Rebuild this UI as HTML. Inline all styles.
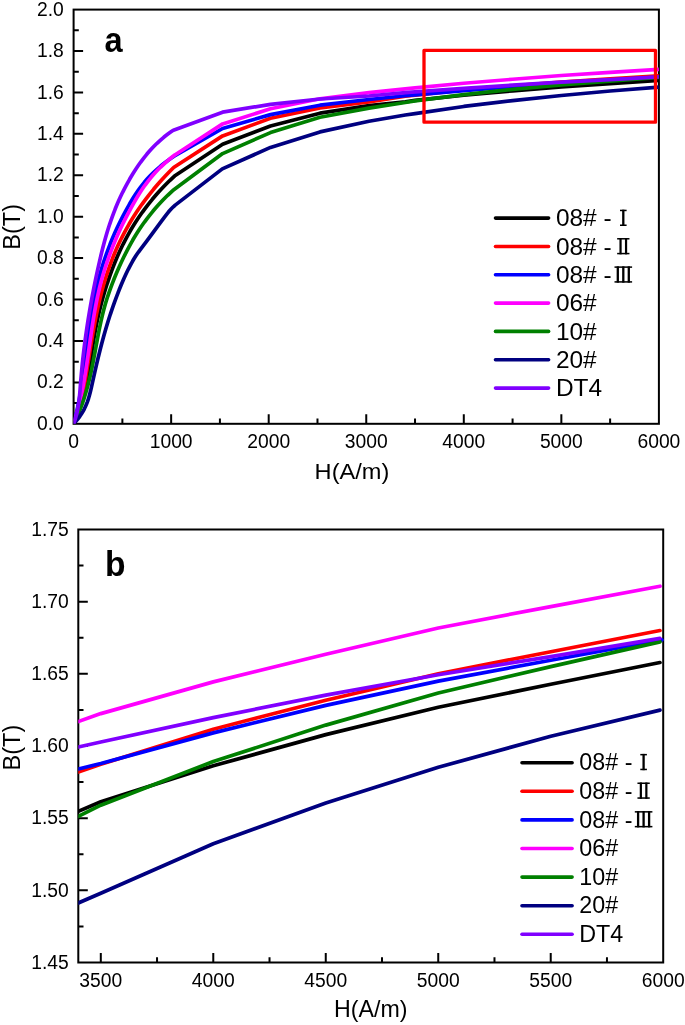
<!DOCTYPE html><html><head><meta charset="utf-8"><style>html,body{margin:0;padding:0;background:#fff;}svg{display:block;will-change:transform}</style></head><body>
<svg width="685" height="1025" viewBox="0 0 685 1025" font-family="Liberation Sans, sans-serif">
<rect x="0" y="0" width="685" height="1025" fill="#fff"/>
<rect x="73.60" y="9.60" width="585.30" height="414.20" fill="none" stroke="#000" stroke-width="2"/>
<path d="M122.38 423.80V418.60M171.15 423.80V414.30M219.92 423.80V418.60M268.70 423.80V414.30M317.48 423.80V418.60M366.25 423.80V414.30M415.02 423.80V418.60M463.80 423.80V414.30M512.58 423.80V418.60M561.35 423.80V414.30M610.12 423.80V418.60M73.60 403.09H78.80M73.60 382.38H83.10M73.60 361.67H78.80M73.60 340.96H83.10M73.60 320.25H78.80M73.60 299.54H83.10M73.60 278.83H78.80M73.60 258.12H83.10M73.60 237.41H78.80M73.60 216.70H83.10M73.60 195.99H78.80M73.60 175.28H83.10M73.60 154.57H78.80M73.60 133.86H83.10M73.60 113.15H78.80M73.60 92.44H83.10M73.60 71.73H78.80M73.60 51.02H83.10M73.60 30.31H78.80" stroke="#000" stroke-width="2" fill="none"/>
<g fill="none" stroke-width="3.7" stroke-linejoin="round" stroke-linecap="butt">
<clipPath id="ca"><rect x="73.60" y="9.60" width="585.30" height="414.20"/></clipPath>
<polyline clip-path="url(#ca)" stroke="#000000" points="73.60,423.80 74.06,422.80 74.51,421.80 74.95,420.80 75.39,419.80 75.81,418.80 76.23,417.80 76.63,416.80 77.03,415.80 77.42,414.80 77.81,413.80 78.18,412.80 78.55,411.80 78.91,410.80 79.26,409.80 79.60,408.80 79.94,407.80 80.27,406.80 80.60,405.80 80.91,404.80 81.22,403.80 81.53,402.80 81.83,401.80 82.12,400.80 82.40,399.80 82.68,398.80 82.96,397.80 83.23,396.80 83.49,395.80 83.75,394.80 84.00,393.80 84.25,392.80 84.49,391.80 84.73,390.80 84.97,389.80 85.20,388.80 85.42,387.80 85.65,386.80 85.86,385.80 86.08,384.80 86.29,383.80 86.50,382.80 86.70,381.80 86.90,380.80 87.10,379.80 87.29,378.80 87.49,377.80 87.68,376.80 87.86,375.80 88.05,374.80 88.23,373.80 88.41,372.80 88.58,371.80 88.76,370.80 88.93,369.80 89.10,368.80 89.27,367.80 89.44,366.80 89.60,365.80 89.77,364.80 89.93,363.80 90.09,362.80 90.25,361.80 90.41,360.80 90.57,359.80 90.73,358.80 90.89,357.80 91.04,356.80 91.20,355.80 91.35,354.80 91.51,353.80 91.67,352.80 91.82,351.80 91.98,350.80 92.13,349.80 92.29,348.80 92.44,347.80 92.60,346.80 92.76,345.80 92.92,344.80 93.08,343.80 93.24,342.80 93.40,341.80 93.56,340.80 93.72,339.80 93.89,338.80 94.05,337.80 94.22,336.80 94.39,335.80 94.56,334.80 94.74,333.80 94.91,332.80 95.09,331.80 95.27,330.80 95.46,329.80 95.64,328.80 95.83,327.80 96.02,326.80 96.21,325.80 96.41,324.80 96.61,323.80 96.81,322.80 97.02,321.80 97.23,320.80 97.44,319.80 97.65,318.80 97.87,317.80 98.09,316.80 98.32,315.80 98.54,314.80 98.77,313.80 99.01,312.80 99.25,311.80 99.49,310.80 99.73,309.80 99.98,308.80 100.23,307.80 100.48,306.80 100.73,305.80 100.99,304.80 101.25,303.80 101.52,302.80 101.79,301.80 102.06,300.80 102.33,299.80 102.61,298.80 102.89,297.80 103.17,296.80 103.46,295.80 103.75,294.80 104.04,293.80 104.34,292.80 104.64,291.80 104.94,290.80 105.25,289.80 105.55,288.80 105.87,287.80 106.18,286.80 106.50,285.80 106.82,284.80 107.14,283.80 107.47,282.80 107.80,281.80 108.13,280.80 108.47,279.80 108.81,278.80 109.15,277.80 109.50,276.80 109.85,275.80 110.20,274.80 110.56,273.80 110.92,272.80 111.28,271.80 111.65,270.80 112.02,269.80 112.40,268.80 112.78,267.80 113.16,266.80 113.55,265.80 113.95,264.80 114.34,263.80 114.75,262.80 115.15,261.80 115.56,260.80 115.98,259.80 116.40,258.80 116.82,257.80 117.25,256.80 117.69,255.80 118.13,254.80 118.57,253.80 119.02,252.80 119.48,251.80 119.94,250.80 120.40,249.80 120.87,248.80 121.35,247.80 121.83,246.80 122.32,245.80 122.81,244.80 123.31,243.80 123.81,242.80 124.32,241.80 124.84,240.80 125.36,239.80 125.88,238.80 126.42,237.80 126.96,236.80 127.50,235.80 128.06,234.80 128.61,233.80 129.18,232.80 129.75,231.80 130.33,230.80 130.91,229.80 131.50,228.80 132.10,227.80 132.71,226.80 133.32,225.80 133.94,224.80 134.56,223.80 135.19,222.80 135.83,221.80 136.48,220.80 137.13,219.80 137.80,218.80 138.46,217.80 139.14,216.80 139.83,215.80 140.52,214.80 141.22,213.80 141.93,212.80 142.65,211.80 143.37,210.80 144.10,209.80 144.85,208.80 145.60,207.80 146.36,206.80 147.13,205.80 147.90,204.80 148.69,203.80 149.49,202.80 150.29,201.80 151.11,200.80 151.93,199.80 152.76,198.80 153.61,197.80 154.46,196.80 155.32,195.80 156.19,194.80 157.08,193.80 157.97,192.80 158.87,191.80 159.79,190.80 160.71,189.80 161.64,188.80 162.59,187.80 163.55,186.80 164.51,185.80 165.49,184.80 166.48,183.80 167.48,182.80 168.49,181.80 169.51,180.80 170.54,179.80 171.59,178.80 172.65,177.80 173.71,176.80 174.79,175.80 174.90,175.70 222.60,144.30 270.50,126.00 320.00,113.20 369.00,105.70 405.27,101.81 415.03,100.45 463.81,95.28 512.59,90.80 561.38,86.89 610.16,83.57 658.90,80.37"/>
<polyline clip-path="url(#ca)" stroke="#ff0000" points="73.60,423.80 74.06,422.80 74.51,421.80 74.95,420.80 75.37,419.80 75.78,418.80 76.17,417.80 76.56,416.80 76.93,415.80 77.29,414.80 77.65,413.80 77.99,412.80 78.32,411.80 78.64,410.80 78.95,409.80 79.25,408.80 79.54,407.80 79.82,406.80 80.10,405.80 80.37,404.80 80.63,403.80 80.88,402.80 81.12,401.80 81.36,400.80 81.59,399.80 81.82,398.80 82.03,397.80 82.25,396.80 82.46,395.80 82.66,394.80 82.86,393.80 83.05,392.80 83.25,391.80 83.43,390.80 83.62,389.80 83.80,388.80 83.98,387.80 84.15,386.80 84.33,385.80 84.50,384.80 84.67,383.80 84.84,382.80 85.01,381.80 85.18,380.80 85.34,379.80 85.51,378.80 85.68,377.80 85.84,376.80 86.00,375.80 86.17,374.80 86.33,373.80 86.49,372.80 86.65,371.80 86.81,370.80 86.97,369.80 87.13,368.80 87.29,367.80 87.45,366.80 87.61,365.80 87.77,364.80 87.92,363.80 88.08,362.80 88.24,361.80 88.40,360.80 88.56,359.80 88.71,358.80 88.87,357.80 89.03,356.80 89.19,355.80 89.35,354.80 89.50,353.80 89.66,352.80 89.82,351.80 89.98,350.80 90.14,349.80 90.30,348.80 90.46,347.80 90.62,346.80 90.78,345.80 90.95,344.80 91.11,343.80 91.27,342.80 91.44,341.80 91.61,340.80 91.77,339.80 91.94,338.80 92.11,337.80 92.28,336.80 92.45,335.80 92.62,334.80 92.79,333.80 92.97,332.80 93.14,331.80 93.32,330.80 93.50,329.80 93.67,328.80 93.86,327.80 94.04,326.80 94.22,325.80 94.41,324.80 94.59,323.80 94.78,322.80 94.97,321.80 95.16,320.80 95.36,319.80 95.55,318.80 95.75,317.80 95.95,316.80 96.15,315.80 96.35,314.80 96.56,313.80 96.77,312.80 96.98,311.80 97.19,310.80 97.40,309.80 97.62,308.80 97.84,307.80 98.06,306.80 98.28,305.80 98.51,304.80 98.74,303.80 98.97,302.80 99.20,301.80 99.44,300.80 99.68,299.80 99.92,298.80 100.16,297.80 100.41,296.80 100.66,295.80 100.91,294.80 101.17,293.80 101.43,292.80 101.69,291.80 101.96,290.80 102.22,289.80 102.50,288.80 102.77,287.80 103.05,286.80 103.33,285.80 103.61,284.80 103.90,283.80 104.20,282.80 104.49,281.80 104.79,280.80 105.09,279.80 105.40,278.80 105.71,277.80 106.02,276.80 106.34,275.80 106.66,274.80 106.99,273.80 107.32,272.80 107.65,271.80 107.99,270.80 108.33,269.80 108.67,268.80 109.02,267.80 109.38,266.80 109.73,265.80 110.10,264.80 110.46,263.80 110.84,262.80 111.21,261.80 111.59,260.80 111.98,259.80 112.37,258.80 112.76,257.80 113.16,256.80 113.56,255.80 113.97,254.80 114.38,253.80 114.80,252.80 115.23,251.80 115.65,250.80 116.09,249.80 116.53,248.80 116.97,247.80 117.42,246.80 117.87,245.80 118.33,244.80 118.80,243.80 119.27,242.80 119.74,241.80 120.22,240.80 120.71,239.80 121.20,238.80 121.70,237.80 122.20,236.80 122.71,235.80 123.23,234.80 123.75,233.80 124.27,232.80 124.81,231.80 125.35,230.80 125.89,229.80 126.44,228.80 127.00,227.80 127.56,226.80 128.13,225.80 128.70,224.80 129.29,223.80 129.87,222.80 130.47,221.80 131.07,220.80 131.68,219.80 132.29,218.80 132.91,217.80 133.54,216.80 134.17,215.80 134.81,214.80 135.46,213.80 136.11,212.80 136.77,211.80 137.44,210.80 138.12,209.80 138.80,208.80 139.49,207.80 140.18,206.80 140.89,205.80 141.60,204.80 142.32,203.80 143.04,202.80 143.77,201.80 144.51,200.80 145.26,199.80 146.01,198.80 146.78,197.80 147.55,196.80 148.32,195.80 149.11,194.80 149.90,193.80 150.70,192.80 151.51,191.80 152.33,190.80 153.15,189.80 153.98,188.80 154.82,187.80 155.67,186.80 156.53,185.80 157.39,184.80 158.27,183.80 159.15,182.80 160.04,181.80 160.93,180.80 161.84,179.80 162.76,178.80 163.68,177.80 164.61,176.80 165.55,175.80 166.50,174.80 167.46,173.80 168.42,172.80 169.40,171.80 170.38,170.80 171.38,169.80 172.38,168.80 173.39,167.80 174.00,167.20 222.60,135.90 270.50,118.30 320.00,108.00 369.00,101.80 405.27,96.17 415.03,95.07 463.81,90.03 512.59,85.87 561.38,82.08 610.16,78.91 658.90,75.78"/>
<polyline clip-path="url(#ca)" stroke="#0000ff" points="73.60,423.80 73.87,422.80 74.14,421.80 74.41,420.80 74.67,419.80 74.92,418.80 75.18,417.80 75.42,416.80 75.67,415.80 75.91,414.80 76.15,413.80 76.39,412.80 76.62,411.80 76.84,410.80 77.07,409.80 77.29,408.80 77.51,407.80 77.73,406.80 77.94,405.80 78.15,404.80 78.35,403.80 78.56,402.80 78.76,401.80 78.96,400.80 79.15,399.80 79.34,398.80 79.53,397.80 79.72,396.80 79.90,395.80 80.09,394.80 80.27,393.80 80.44,392.80 80.62,391.80 80.79,390.80 80.96,389.80 81.13,388.80 81.30,387.80 81.46,386.80 81.62,385.80 81.78,384.80 81.94,383.80 82.10,382.80 82.25,381.80 82.41,380.80 82.56,379.80 82.71,378.80 82.86,377.80 83.00,376.80 83.15,375.80 83.29,374.80 83.44,373.80 83.58,372.80 83.72,371.80 83.86,370.80 83.99,369.80 84.13,368.80 84.27,367.80 84.40,366.80 84.54,365.80 84.67,364.80 84.80,363.80 84.93,362.80 85.06,361.80 85.19,360.80 85.32,359.80 85.45,358.80 85.58,357.80 85.71,356.80 85.83,355.80 85.96,354.80 86.09,353.80 86.22,352.80 86.34,351.80 86.47,350.80 86.60,349.80 86.72,348.80 86.85,347.80 86.97,346.80 87.10,345.80 87.23,344.80 87.36,343.80 87.48,342.80 87.61,341.80 87.74,340.80 87.87,339.80 88.00,338.80 88.13,337.80 88.26,336.80 88.39,335.80 88.52,334.80 88.65,333.80 88.79,332.80 88.92,331.80 89.06,330.80 89.19,329.80 89.33,328.80 89.47,327.80 89.61,326.80 89.75,325.80 89.89,324.80 90.04,323.80 90.18,322.80 90.33,321.80 90.48,320.80 90.63,319.80 90.78,318.80 90.93,317.80 91.09,316.80 91.24,315.80 91.40,314.80 91.56,313.80 91.72,312.80 91.89,311.80 92.05,310.80 92.22,309.80 92.39,308.80 92.56,307.80 92.74,306.80 92.92,305.80 93.10,304.80 93.28,303.80 93.46,302.80 93.65,301.80 93.84,300.80 94.03,299.80 94.22,298.80 94.42,297.80 94.62,296.80 94.83,295.80 95.03,294.80 95.24,293.80 95.45,292.80 95.67,291.80 95.89,290.80 96.11,289.80 96.33,288.80 96.56,287.80 96.79,286.80 97.02,285.80 97.26,284.80 97.50,283.80 97.75,282.80 98.00,281.80 98.25,280.80 98.50,279.80 98.76,278.80 99.03,277.80 99.29,276.80 99.56,275.80 99.84,274.80 100.11,273.80 100.40,272.80 100.68,271.80 100.97,270.80 101.26,269.80 101.56,268.80 101.86,267.80 102.16,266.80 102.47,265.80 102.78,264.80 103.10,263.80 103.41,262.80 103.74,261.80 104.06,260.80 104.40,259.80 104.73,258.80 105.07,257.80 105.41,256.80 105.76,255.80 106.11,254.80 106.46,253.80 106.82,252.80 107.19,251.80 107.55,250.80 107.92,249.80 108.30,248.80 108.68,247.80 109.06,246.80 109.45,245.80 109.84,244.80 110.24,243.80 110.64,242.80 111.04,241.80 111.45,240.80 111.86,239.80 112.28,238.80 112.70,237.80 113.13,236.80 113.56,235.80 113.99,234.80 114.43,233.80 114.87,232.80 115.32,231.80 115.77,230.80 116.23,229.80 116.69,228.80 117.15,227.80 117.62,226.80 118.10,225.80 118.58,224.80 119.06,223.80 119.55,222.80 120.04,221.80 120.54,220.80 121.04,219.80 121.54,218.80 122.05,217.80 122.57,216.80 123.09,215.80 123.61,214.80 124.14,213.80 124.68,212.80 125.22,211.80 125.76,210.80 126.31,209.80 126.86,208.80 127.42,207.80 127.98,206.80 128.55,205.80 129.12,204.80 129.70,203.80 130.28,202.80 130.87,201.80 131.47,200.80 132.07,199.80 132.67,198.80 133.29,197.80 133.92,196.80 134.55,195.80 135.20,194.80 135.85,193.80 136.52,192.80 137.20,191.80 137.89,190.80 138.59,189.80 139.31,188.80 140.04,187.80 140.79,186.80 141.55,185.80 142.33,184.80 143.13,183.80 143.94,182.80 144.77,181.80 145.63,180.80 146.49,179.80 147.38,178.80 148.30,177.80 149.23,176.80 150.18,175.80 151.16,174.80 152.16,173.80 153.18,172.80 154.23,171.80 155.30,170.80 156.40,169.80 157.52,168.80 158.67,167.80 159.85,166.80 161.06,165.80 162.29,164.80 163.56,163.80 164.85,162.80 166.18,161.80 167.53,160.80 168.92,159.80 170.34,158.80 171.80,157.80 173.28,156.80 174.50,156.00 222.60,128.50 270.50,114.60 320.00,105.20 369.00,99.50 405.27,95.74 415.03,94.95 463.81,90.56 512.59,86.61 561.38,83.13 610.16,80.13 658.90,77.17"/>
<polyline clip-path="url(#ca)" stroke="#ff00ff" points="73.60,423.80 73.93,422.80 74.24,421.80 74.56,420.80 74.87,419.80 75.17,418.80 75.47,417.80 75.77,416.80 76.06,415.80 76.35,414.80 76.63,413.80 76.91,412.80 77.19,411.80 77.46,410.80 77.73,409.80 77.99,408.80 78.25,407.80 78.51,406.80 78.76,405.80 79.01,404.80 79.25,403.80 79.49,402.80 79.73,401.80 79.97,400.80 80.20,399.80 80.42,398.80 80.65,397.80 80.87,396.80 81.09,395.80 81.31,394.80 81.52,393.80 81.73,392.80 81.93,391.80 82.14,390.80 82.34,389.80 82.54,388.80 82.73,387.80 82.93,386.80 83.12,385.80 83.31,384.80 83.49,383.80 83.68,382.80 83.86,381.80 84.04,380.80 84.21,379.80 84.39,378.80 84.56,377.80 84.73,376.80 84.90,375.80 85.07,374.80 85.24,373.80 85.40,372.80 85.56,371.80 85.72,370.80 85.88,369.80 86.04,368.80 86.20,367.80 86.35,366.80 86.51,365.80 86.66,364.80 86.81,363.80 86.96,362.80 87.11,361.80 87.26,360.80 87.41,359.80 87.55,358.80 87.70,357.80 87.84,356.80 87.99,355.80 88.13,354.80 88.27,353.80 88.42,352.80 88.56,351.80 88.70,350.80 88.84,349.80 88.99,348.80 89.13,347.80 89.27,346.80 89.41,345.80 89.55,344.80 89.69,343.80 89.83,342.80 89.97,341.80 90.12,340.80 90.26,339.80 90.40,338.80 90.54,337.80 90.69,336.80 90.83,335.80 90.97,334.80 91.12,333.80 91.27,332.80 91.41,331.80 91.56,330.80 91.71,329.80 91.86,328.80 92.01,327.80 92.16,326.80 92.31,325.80 92.47,324.80 92.62,323.80 92.78,322.80 92.94,321.80 93.10,320.80 93.26,319.80 93.42,318.80 93.58,317.80 93.75,316.80 93.92,315.80 94.09,314.80 94.26,313.80 94.43,312.80 94.61,311.80 94.78,310.80 94.96,309.80 95.14,308.80 95.33,307.80 95.51,306.80 95.70,305.80 95.89,304.80 96.09,303.80 96.28,302.80 96.48,301.80 96.68,300.80 96.89,299.80 97.09,298.80 97.30,297.80 97.52,296.80 97.73,295.80 97.95,294.80 98.17,293.80 98.40,292.80 98.62,291.80 98.86,290.80 99.09,289.80 99.33,288.80 99.57,287.80 99.82,286.80 100.06,285.80 100.32,284.80 100.57,283.80 100.83,282.80 101.10,281.80 101.36,280.80 101.63,279.80 101.91,278.80 102.19,277.80 102.47,276.80 102.76,275.80 103.05,274.80 103.34,273.80 103.64,272.80 103.94,271.80 104.24,270.80 104.55,269.80 104.87,268.80 105.18,267.80 105.50,266.80 105.83,265.80 106.15,264.80 106.48,263.80 106.82,262.80 107.16,261.80 107.50,260.80 107.85,259.80 108.20,258.80 108.55,257.80 108.91,256.80 109.27,255.80 109.64,254.80 110.01,253.80 110.38,252.80 110.76,251.80 111.14,250.80 111.52,249.80 111.91,248.80 112.30,247.80 112.70,246.80 113.10,245.80 113.50,244.80 113.91,243.80 114.32,242.80 114.74,241.80 115.16,240.80 115.58,239.80 116.01,238.80 116.44,237.80 116.87,236.80 117.31,235.80 117.75,234.80 118.20,233.80 118.65,232.80 119.10,231.80 119.56,230.80 120.02,229.80 120.48,228.80 120.95,227.80 121.42,226.80 121.90,225.80 122.38,224.80 122.87,223.80 123.35,222.80 123.85,221.80 124.34,220.80 124.84,219.80 125.35,218.80 125.85,217.80 126.36,216.80 126.88,215.80 127.40,214.80 127.92,213.80 128.45,212.80 128.98,211.80 129.51,210.80 130.05,209.80 130.59,208.80 131.14,207.80 131.69,206.80 132.24,205.80 132.80,204.80 133.36,203.80 133.93,202.80 134.50,201.80 135.07,200.80 135.65,199.80 136.24,198.80 136.83,197.80 137.43,196.80 138.04,195.80 138.65,194.80 139.28,193.80 139.91,192.80 140.55,191.80 141.20,190.80 141.86,189.80 142.53,188.80 143.21,187.80 143.91,186.80 144.61,185.80 145.33,184.80 146.06,183.80 146.81,182.80 147.57,181.80 148.34,180.80 149.13,179.80 149.93,178.80 150.75,177.80 151.59,176.80 152.44,175.80 153.31,174.80 154.20,173.80 155.10,172.80 156.03,171.80 156.97,170.80 157.93,169.80 158.92,168.80 159.92,167.80 160.95,166.80 161.99,165.80 163.06,164.80 164.15,163.80 165.27,162.80 166.41,161.80 167.57,160.80 168.75,159.80 169.96,158.80 171.20,157.80 172.46,156.80 173.75,155.80 175.07,154.80 175.20,154.70 222.60,123.90 270.50,108.80 320.00,98.80 369.00,92.70 405.27,88.92 415.03,87.79 463.81,83.24 512.59,79.28 561.38,75.51 610.16,72.44 658.90,69.42"/>
<polyline clip-path="url(#ca)" stroke="#008000" points="73.60,423.80 74.11,422.80 74.60,421.80 75.09,420.80 75.56,419.80 76.03,418.80 76.50,417.80 76.95,416.80 77.40,415.80 77.84,414.80 78.27,413.80 78.69,412.80 79.11,411.80 79.52,410.80 79.92,409.80 80.32,408.80 80.70,407.80 81.09,406.80 81.46,405.80 81.83,404.80 82.19,403.80 82.55,402.80 82.90,401.80 83.24,400.80 83.58,399.80 83.91,398.80 84.24,397.80 84.56,396.80 84.88,395.80 85.19,394.80 85.49,393.80 85.79,392.80 86.09,391.80 86.38,390.80 86.66,389.80 86.94,388.80 87.22,387.80 87.49,386.80 87.75,385.80 88.02,384.80 88.28,383.80 88.53,382.80 88.78,381.80 89.03,380.80 89.27,379.80 89.51,378.80 89.74,377.80 89.98,376.80 90.21,375.80 90.43,374.80 90.66,373.80 90.88,372.80 91.09,371.80 91.31,370.80 91.52,369.80 91.73,368.80 91.94,367.80 92.14,366.80 92.34,365.80 92.55,364.80 92.74,363.80 92.94,362.80 93.14,361.80 93.33,360.80 93.52,359.80 93.71,358.80 93.90,357.80 94.09,356.80 94.28,355.80 94.47,354.80 94.65,353.80 94.84,352.80 95.02,351.80 95.21,350.80 95.39,349.80 95.58,348.80 95.76,347.80 95.94,346.80 96.13,345.80 96.31,344.80 96.49,343.80 96.68,342.80 96.86,341.80 97.05,340.80 97.24,339.80 97.42,338.80 97.61,337.80 97.80,336.80 97.99,335.80 98.19,334.80 98.38,333.80 98.57,332.80 98.77,331.80 98.97,330.80 99.17,329.80 99.37,328.80 99.58,327.80 99.79,326.80 100.00,325.80 100.21,324.80 100.42,323.80 100.64,322.80 100.86,321.80 101.08,320.80 101.31,319.80 101.54,318.80 101.77,317.80 102.00,316.80 102.24,315.80 102.48,314.80 102.73,313.80 102.98,312.80 103.23,311.80 103.49,310.80 103.76,309.80 104.02,308.80 104.29,307.80 104.57,306.80 104.85,305.80 105.13,304.80 105.42,303.80 105.71,302.80 106.01,301.80 106.32,300.80 106.63,299.80 106.94,298.80 107.26,297.80 107.58,296.80 107.91,295.80 108.24,294.80 108.58,293.80 108.92,292.80 109.26,291.80 109.61,290.80 109.97,289.80 110.33,288.80 110.69,287.80 111.06,286.80 111.43,285.80 111.80,284.80 112.18,283.80 112.57,282.80 112.96,281.80 113.35,280.80 113.75,279.80 114.15,278.80 114.55,277.80 114.96,276.80 115.37,275.80 115.79,274.80 116.21,273.80 116.63,272.80 117.06,271.80 117.49,270.80 117.93,269.80 118.37,268.80 118.81,267.80 119.25,266.80 119.70,265.80 120.16,264.80 120.61,263.80 121.07,262.80 121.54,261.80 122.01,260.80 122.48,259.80 122.95,258.80 123.43,257.80 123.92,256.80 124.40,255.80 124.90,254.80 125.39,253.80 125.90,252.80 126.40,251.80 126.92,250.80 127.44,249.80 127.96,248.80 128.49,247.80 129.02,246.80 129.56,245.80 130.11,244.80 130.66,243.80 131.22,242.80 131.79,241.80 132.36,240.80 132.94,239.80 133.52,238.80 134.12,237.80 134.72,236.80 135.32,235.80 135.94,234.80 136.56,233.80 137.19,232.80 137.83,231.80 138.47,230.80 139.13,229.80 139.79,228.80 140.46,227.80 141.14,226.80 141.83,225.80 142.52,224.80 143.23,223.80 143.94,222.80 144.67,221.80 145.40,220.80 146.14,219.80 146.89,218.80 147.66,217.80 148.43,216.80 149.21,215.80 150.00,214.80 150.81,213.80 151.62,212.80 152.44,211.80 153.28,210.80 154.13,209.80 154.98,208.80 155.85,207.80 156.73,206.80 157.62,205.80 158.53,204.80 159.44,203.80 160.37,202.80 161.31,201.80 162.26,200.80 163.22,199.80 164.20,198.80 165.19,197.80 166.19,196.80 167.20,195.80 168.23,194.80 169.27,193.80 170.32,192.80 171.39,191.80 172.47,190.80 172.80,190.50 222.60,153.60 270.50,132.60 320.00,117.20 369.00,108.10 405.27,102.53 415.03,100.93 463.81,94.66 512.59,89.44 561.38,84.84 610.16,81.05 658.90,77.39"/>
<polyline clip-path="url(#ca)" stroke="#000080" points="73.60,423.80 74.55,422.80 75.46,421.80 76.33,420.80 77.17,419.80 77.98,418.80 78.75,417.80 79.49,416.80 80.20,415.80 80.88,414.80 81.53,413.80 82.15,412.80 82.74,411.80 83.31,410.80 83.85,409.80 84.37,408.80 84.86,407.80 85.33,406.80 85.78,405.80 86.21,404.80 86.62,403.80 87.01,402.80 87.39,401.80 87.74,400.80 88.08,399.80 88.41,398.80 88.72,397.80 89.02,396.80 89.31,395.80 89.58,394.80 89.85,393.80 90.10,392.80 90.35,391.80 90.60,390.80 90.83,389.80 91.06,388.80 91.29,387.80 91.51,386.80 91.73,385.80 91.95,384.80 92.17,383.80 92.39,382.80 92.61,381.80 92.84,380.80 93.06,379.80 93.28,378.80 93.50,377.80 93.73,376.80 93.95,375.80 94.18,374.80 94.40,373.80 94.63,372.80 94.86,371.80 95.08,370.80 95.31,369.80 95.54,368.80 95.77,367.80 96.01,366.80 96.24,365.80 96.47,364.80 96.71,363.80 96.95,362.80 97.18,361.80 97.42,360.80 97.66,359.80 97.90,358.80 98.14,357.80 98.39,356.80 98.63,355.80 98.88,354.80 99.13,353.80 99.38,352.80 99.63,351.80 99.88,350.80 100.13,349.80 100.39,348.80 100.64,347.80 100.90,346.80 101.16,345.80 101.42,344.80 101.68,343.80 101.95,342.80 102.22,341.80 102.48,340.80 102.75,339.80 103.03,338.80 103.30,337.80 103.57,336.80 103.85,335.80 104.13,334.80 104.41,333.80 104.70,332.80 104.98,331.80 105.27,330.80 105.56,329.80 105.85,328.80 106.14,327.80 106.44,326.80 106.74,325.80 107.04,324.80 107.34,323.80 107.65,322.80 107.95,321.80 108.26,320.80 108.58,319.80 108.89,318.80 109.21,317.80 109.53,316.80 109.85,315.80 110.17,314.80 110.50,313.80 110.83,312.80 111.16,311.80 111.50,310.80 111.84,309.80 112.18,308.80 112.52,307.80 112.87,306.80 113.22,305.80 113.57,304.80 113.92,303.80 114.28,302.80 114.64,301.80 115.01,300.80 115.37,299.80 115.74,298.80 116.11,297.80 116.49,296.80 116.87,295.80 117.25,294.80 117.64,293.80 118.02,292.80 118.42,291.80 118.81,290.80 119.21,289.80 119.61,288.80 120.02,287.80 120.42,286.80 120.84,285.80 121.25,284.80 121.67,283.80 122.09,282.80 122.52,281.80 122.95,280.80 123.38,279.80 123.82,278.80 124.27,277.80 124.72,276.80 125.17,275.80 125.63,274.80 126.10,273.80 126.57,272.80 127.05,271.80 127.54,270.80 128.03,269.80 128.53,268.80 129.04,267.80 129.56,266.80 130.08,265.80 130.61,264.80 131.15,263.80 131.70,262.80 132.26,261.80 132.84,260.80 133.42,259.80 134.02,258.80 134.63,257.80 135.26,256.80 135.90,255.80 136.56,254.80 137.24,253.80 137.94,252.80 138.66,251.80 139.38,250.80 140.12,249.80 140.87,248.80 141.62,247.80 142.38,246.80 143.14,245.80 143.89,244.80 144.65,243.80 145.40,242.80 146.15,241.80 146.90,240.80 147.64,239.80 148.39,238.80 149.13,237.80 149.87,236.80 150.61,235.80 151.35,234.80 152.09,233.80 152.83,232.80 153.56,231.80 154.30,230.80 155.04,229.80 155.77,228.80 156.51,227.80 157.25,226.80 157.98,225.80 158.72,224.80 159.46,223.80 160.20,222.80 160.95,221.80 161.69,220.80 162.44,219.80 163.19,218.80 163.94,217.80 164.69,216.80 165.45,215.80 166.23,214.80 167.01,213.80 167.82,212.80 168.66,211.80 169.52,210.80 170.42,209.80 171.35,208.80 172.33,207.80 173.35,206.80 174.42,205.80 175.20,205.10 222.30,168.90 270.50,147.40 320.00,131.90 369.00,121.20 405.27,114.97 415.03,113.56 463.81,106.46 512.59,100.62 561.38,95.50 610.16,91.03 658.90,87.19"/>
<polyline clip-path="url(#ca)" stroke="#8000ff" points="73.60,423.80 73.98,422.80 74.35,421.80 74.70,420.80 75.03,419.80 75.35,418.80 75.65,417.80 75.94,416.80 76.22,415.80 76.48,414.80 76.73,413.80 76.97,412.80 77.19,411.80 77.41,410.80 77.61,409.80 77.80,408.80 77.98,407.80 78.15,406.80 78.32,405.80 78.47,404.80 78.62,403.80 78.76,402.80 78.89,401.80 79.01,400.80 79.13,399.80 79.24,398.80 79.35,397.80 79.45,396.80 79.55,395.80 79.64,394.80 79.73,393.80 79.81,392.80 79.90,391.80 79.98,390.80 80.06,389.80 80.13,388.80 80.21,387.80 80.29,386.80 80.36,385.80 80.44,384.80 80.52,383.80 80.60,382.80 80.68,381.80 80.76,380.80 80.84,379.80 80.92,378.80 81.01,377.80 81.10,376.80 81.18,375.80 81.27,374.80 81.36,373.80 81.46,372.80 81.55,371.80 81.64,370.80 81.74,369.80 81.84,368.80 81.93,367.80 82.03,366.80 82.13,365.80 82.24,364.80 82.34,363.80 82.44,362.80 82.55,361.80 82.66,360.80 82.76,359.80 82.87,358.80 82.98,357.80 83.10,356.80 83.21,355.80 83.32,354.80 83.44,353.80 83.56,352.80 83.68,351.80 83.80,350.80 83.92,349.80 84.04,348.80 84.16,347.80 84.29,346.80 84.41,345.80 84.54,344.80 84.67,343.80 84.80,342.80 84.93,341.80 85.06,340.80 85.20,339.80 85.33,338.80 85.47,337.80 85.61,336.80 85.74,335.80 85.88,334.80 86.03,333.80 86.17,332.80 86.31,331.80 86.46,330.80 86.60,329.80 86.75,328.80 86.90,327.80 87.05,326.80 87.20,325.80 87.35,324.80 87.51,323.80 87.66,322.80 87.82,321.80 87.97,320.80 88.13,319.80 88.29,318.80 88.45,317.80 88.62,316.80 88.78,315.80 88.95,314.80 89.11,313.80 89.28,312.80 89.45,311.80 89.62,310.80 89.79,309.80 89.96,308.80 90.13,307.80 90.31,306.80 90.49,305.80 90.66,304.80 90.84,303.80 91.02,302.80 91.20,301.80 91.38,300.80 91.57,299.80 91.75,298.80 91.94,297.80 92.13,296.80 92.31,295.80 92.50,294.80 92.69,293.80 92.89,292.80 93.08,291.80 93.27,290.80 93.47,289.80 93.67,288.80 93.86,287.80 94.06,286.80 94.26,285.80 94.47,284.80 94.67,283.80 94.87,282.80 95.08,281.80 95.29,280.80 95.49,279.80 95.70,278.80 95.91,277.80 96.12,276.80 96.34,275.80 96.55,274.80 96.77,273.80 96.98,272.80 97.20,271.80 97.42,270.80 97.64,269.80 97.86,268.80 98.08,267.80 98.31,266.80 98.53,265.80 98.76,264.80 98.98,263.80 99.21,262.80 99.44,261.80 99.67,260.80 99.91,259.80 100.14,258.80 100.38,257.80 100.61,256.80 100.85,255.80 101.09,254.80 101.34,253.80 101.58,252.80 101.83,251.80 102.07,250.80 102.33,249.80 102.58,248.80 102.83,247.80 103.09,246.80 103.35,245.80 103.61,244.80 103.88,243.80 104.14,242.80 104.41,241.80 104.69,240.80 104.96,239.80 105.24,238.80 105.52,237.80 105.81,236.80 106.10,235.80 106.39,234.80 106.68,233.80 106.98,232.80 107.28,231.80 107.58,230.80 107.89,229.80 108.20,228.80 108.52,227.80 108.84,226.80 109.16,225.80 109.48,224.80 109.81,223.80 110.15,222.80 110.49,221.80 110.83,220.80 111.18,219.80 111.53,218.80 111.88,217.80 112.24,216.80 112.61,215.80 112.98,214.80 113.35,213.80 113.73,212.80 114.11,211.80 114.50,210.80 114.89,209.80 115.29,208.80 115.69,207.80 116.10,206.80 116.51,205.80 116.93,204.80 117.35,203.80 117.78,202.80 118.22,201.80 118.66,200.80 119.10,199.80 119.55,198.80 120.01,197.80 120.47,196.80 120.94,195.80 121.42,194.80 121.90,193.80 122.38,192.80 122.88,191.80 123.38,190.80 123.88,189.80 124.39,188.80 124.91,187.80 125.44,186.80 125.97,185.80 126.51,184.80 127.05,183.80 127.60,182.80 128.16,181.80 128.73,180.80 129.30,179.80 129.88,178.80 130.46,177.80 131.06,176.80 131.66,175.80 132.27,174.80 132.88,173.80 133.51,172.80 134.14,171.80 134.78,170.80 135.42,169.80 136.08,168.80 136.74,167.80 137.41,166.80 138.09,165.80 138.78,164.80 139.48,163.80 140.19,162.80 140.91,161.80 141.65,160.80 142.39,159.80 143.16,158.80 143.93,157.80 144.72,156.80 145.52,155.80 146.34,154.80 147.17,153.80 148.02,152.80 148.89,151.80 149.77,150.80 150.68,149.80 151.60,148.80 152.54,147.80 153.50,146.80 154.48,145.80 155.48,144.80 156.50,143.80 157.55,142.80 158.62,141.80 159.71,140.80 160.82,139.80 161.97,138.80 163.15,137.80 164.36,136.80 165.61,135.80 166.90,134.80 168.23,133.80 169.61,132.80 171.03,131.80 172.49,130.80 173.40,130.20 222.60,112.20 270.50,104.30 320.00,99.00 369.00,96.00 405.27,92.58 415.03,91.87 463.81,88.36 512.59,85.14 561.38,82.21 610.16,79.61 658.90,76.93"/>
</g>
<rect x="424" y="50.4" width="231.5" height="71.8" fill="none" stroke="#ff0000" stroke-width="3.3" stroke-linejoin="round"/>
<g font-size="19.3" fill="#000">
<text x="63.8" y="429.90" text-anchor="end">0.0</text>
<text x="63.8" y="388.48" text-anchor="end">0.2</text>
<text x="63.8" y="347.06" text-anchor="end">0.4</text>
<text x="63.8" y="305.64" text-anchor="end">0.6</text>
<text x="63.8" y="264.22" text-anchor="end">0.8</text>
<text x="63.8" y="222.80" text-anchor="end">1.0</text>
<text x="63.8" y="181.38" text-anchor="end">1.2</text>
<text x="63.8" y="139.96" text-anchor="end">1.4</text>
<text x="63.8" y="98.54" text-anchor="end">1.6</text>
<text x="63.8" y="57.12" text-anchor="end">1.8</text>
<text x="63.8" y="15.70" text-anchor="end">2.0</text>
<text x="73.60" y="447.8" text-anchor="middle">0</text>
<text x="171.15" y="447.8" text-anchor="middle">1000</text>
<text x="268.70" y="447.8" text-anchor="middle">2000</text>
<text x="366.25" y="447.8" text-anchor="middle">3000</text>
<text x="463.80" y="447.8" text-anchor="middle">4000</text>
<text x="561.35" y="447.8" text-anchor="middle">5000</text>
<text x="658.90" y="447.8" text-anchor="middle">6000</text>
</g>
<text transform="translate(314.6,478.7) scale(1.03,1)" font-size="22.9">H(A/m)</text>
<text transform="translate(19.9,249.7) rotate(-90)" font-size="23.5">B(T)</text>
<text transform="translate(104.6,51.9) scale(0.93,1)" font-size="35" font-weight="bold">a</text>
<line x1="495.50" y1="218.10" x2="548.60" y2="218.10" stroke="#000000" stroke-width="3.6" stroke-linecap="round"/><text transform="translate(555.90,226.30) scale(1.040,1)" font-size="23.5" xml:space="preserve">08# - </text><rect x="620.00" y="209.70" width="6.60" height="1.50"/><rect x="620.00" y="224.50" width="6.60" height="1.50"/><rect x="622.15" y="209.70" width="2.30" height="16.30"/><line x1="495.50" y1="246.43" x2="548.60" y2="246.43" stroke="#ff0000" stroke-width="3.6" stroke-linecap="round"/><text transform="translate(555.90,254.63) scale(1.040,1)" font-size="23.5" xml:space="preserve">08# - </text><rect x="617.15" y="238.03" width="12.30" height="1.50"/><rect x="617.15" y="252.83" width="12.30" height="1.50"/><rect x="619.45" y="238.03" width="2.20" height="16.30"/><rect x="624.95" y="238.03" width="2.20" height="16.30"/><line x1="495.50" y1="274.76" x2="548.60" y2="274.76" stroke="#0000ff" stroke-width="3.6" stroke-linecap="round"/><text transform="translate(555.90,282.96) scale(1.040,1)" font-size="23.5" xml:space="preserve">08# -</text><rect x="614.50" y="266.36" width="17.60" height="1.50"/><rect x="614.50" y="281.16" width="17.60" height="1.50"/><rect x="616.65" y="266.36" width="2.30" height="16.30"/><rect x="622.15" y="266.36" width="2.30" height="16.30"/><rect x="627.65" y="266.36" width="2.30" height="16.30"/><line x1="495.50" y1="303.09" x2="548.60" y2="303.09" stroke="#ff00ff" stroke-width="3.6" stroke-linecap="round"/><text transform="translate(555.90,311.29) scale(1.040,1)" font-size="23.5" xml:space="preserve">06#</text><line x1="495.50" y1="331.42" x2="548.60" y2="331.42" stroke="#008000" stroke-width="3.6" stroke-linecap="round"/><text transform="translate(555.90,339.62) scale(1.040,1)" font-size="23.5" xml:space="preserve">10#</text><line x1="495.50" y1="359.75" x2="548.60" y2="359.75" stroke="#000080" stroke-width="3.6" stroke-linecap="round"/><text transform="translate(555.90,367.95) scale(1.040,1)" font-size="23.5" xml:space="preserve">20#</text><line x1="495.50" y1="388.08" x2="548.60" y2="388.08" stroke="#8000ff" stroke-width="3.6" stroke-linecap="round"/><text transform="translate(555.90,396.28) scale(1.040,1)" font-size="23.5" xml:space="preserve">DT4</text>
<rect x="78.30" y="529.50" width="584.90" height="433.00" fill="none" stroke="#000" stroke-width="2"/>
<path d="M100.80 962.50V953.00M157.04 962.50V957.30M213.28 962.50V953.00M269.52 962.50V957.30M325.76 962.50V953.00M382.00 962.50V957.30M438.24 962.50V953.00M494.48 962.50V957.30M550.72 962.50V953.00M606.96 962.50V957.30M78.30 926.42H83.50M78.30 890.33H87.80M78.30 854.25H83.50M78.30 818.17H87.80M78.30 782.08H83.50M78.30 746.00H87.80M78.30 709.92H83.50M78.30 673.83H87.80M78.30 637.75H83.50M78.30 601.67H87.80M78.30 565.58H83.50" stroke="#000" stroke-width="2" fill="none"/>
<g fill="none" stroke-width="3.7" stroke-linejoin="round" stroke-linecap="butt">
<clipPath id="cb"><rect x="78.30" y="529.50" width="587.90" height="433.00"/></clipPath>
<polyline clip-path="url(#cb)" stroke-linecap="round" stroke="#000000" points="78.30,811.30 100.80,801.80 213.30,765.80 325.80,734.60 438.30,707.30 550.80,684.20 660.00,662.53"/>
<polyline clip-path="url(#cb)" stroke-linecap="round" stroke="#ff0000" points="78.30,772.00 100.80,764.30 213.30,729.20 325.80,700.20 438.30,673.80 550.80,651.70 660.00,630.52"/>
<polyline clip-path="url(#cb)" stroke-linecap="round" stroke="#0000ff" points="78.30,769.00 100.80,763.50 213.30,732.90 325.80,705.40 438.30,681.10 550.80,660.20 662.00,639.82"/>
<polyline clip-path="url(#cb)" stroke-linecap="round" stroke="#ff00ff" points="78.30,721.50 100.80,713.60 213.30,681.90 325.80,654.30 438.30,628.00 550.80,606.60 660.00,586.20"/>
<polyline clip-path="url(#cb)" stroke-linecap="round" stroke="#008000" points="78.30,816.30 100.80,805.20 213.30,761.50 325.80,725.10 438.30,693.00 550.80,666.60 660.00,641.83"/>
<polyline clip-path="url(#cb)" stroke-linecap="round" stroke="#000080" points="78.30,903.00 100.80,893.20 213.30,843.70 325.80,803.00 438.30,767.30 550.80,736.20 660.00,710.16"/>
<polyline clip-path="url(#cb)" stroke-linecap="round" stroke="#8000ff" points="78.30,747.00 100.80,742.00 213.30,717.60 325.80,695.10 438.30,674.70 550.80,656.60 660.00,638.43"/>
</g>
<g font-size="19.3" fill="#000">
<text x="68.8" y="968.70" text-anchor="end">1.45</text>
<text x="68.8" y="896.53" text-anchor="end">1.50</text>
<text x="68.8" y="824.37" text-anchor="end">1.55</text>
<text x="68.8" y="752.20" text-anchor="end">1.60</text>
<text x="68.8" y="680.03" text-anchor="end">1.65</text>
<text x="68.8" y="607.87" text-anchor="end">1.70</text>
<text x="68.8" y="535.70" text-anchor="end">1.75</text>
<text x="100.80" y="986.6" text-anchor="middle">3500</text>
<text x="213.28" y="986.6" text-anchor="middle">4000</text>
<text x="325.76" y="986.6" text-anchor="middle">4500</text>
<text x="438.24" y="986.6" text-anchor="middle">5000</text>
<text x="550.72" y="986.6" text-anchor="middle">5500</text>
<text x="663.20" y="986.6" text-anchor="middle">6000</text>
</g>
<text x="334.1" y="1017.3" font-size="23.2">H(A/m)</text>
<text transform="translate(19.9,770.4) rotate(-90)" font-size="23.5">B(T)</text>
<text transform="translate(105.1,575.6) scale(0.96,1)" font-size="35" font-weight="bold">b</text>
<line x1="522.00" y1="762.70" x2="572.10" y2="762.70" stroke="#000000" stroke-width="3.6" stroke-linecap="round"/><text x="579.30" y="770.30" font-size="23.3" xml:space="preserve">08# - </text><rect x="640.30" y="753.90" width="6.60" height="1.50"/><rect x="640.30" y="768.70" width="6.60" height="1.50"/><rect x="642.45" y="753.90" width="2.30" height="16.30"/><line x1="522.00" y1="791.30" x2="572.10" y2="791.30" stroke="#ff0000" stroke-width="3.6" stroke-linecap="round"/><text x="579.30" y="798.90" font-size="23.3" xml:space="preserve">08# - </text><rect x="637.45" y="782.50" width="12.30" height="1.50"/><rect x="637.45" y="797.30" width="12.30" height="1.50"/><rect x="639.75" y="782.50" width="2.20" height="16.30"/><rect x="645.25" y="782.50" width="2.20" height="16.30"/><line x1="522.00" y1="819.90" x2="572.10" y2="819.90" stroke="#0000ff" stroke-width="3.6" stroke-linecap="round"/><text x="579.30" y="827.50" font-size="23.3" xml:space="preserve">08# -</text><rect x="634.80" y="811.10" width="17.60" height="1.50"/><rect x="634.80" y="825.90" width="17.60" height="1.50"/><rect x="636.95" y="811.10" width="2.30" height="16.30"/><rect x="642.45" y="811.10" width="2.30" height="16.30"/><rect x="647.95" y="811.10" width="2.30" height="16.30"/><line x1="522.00" y1="848.50" x2="572.10" y2="848.50" stroke="#ff00ff" stroke-width="3.6" stroke-linecap="round"/><text x="579.30" y="856.10" font-size="23.3" xml:space="preserve">06#</text><line x1="522.00" y1="877.10" x2="572.10" y2="877.10" stroke="#008000" stroke-width="3.6" stroke-linecap="round"/><text x="579.30" y="884.70" font-size="23.3" xml:space="preserve">10#</text><line x1="522.00" y1="905.70" x2="572.10" y2="905.70" stroke="#000080" stroke-width="3.6" stroke-linecap="round"/><text x="579.30" y="913.30" font-size="23.3" xml:space="preserve">20#</text><line x1="522.00" y1="934.30" x2="572.10" y2="934.30" stroke="#8000ff" stroke-width="3.6" stroke-linecap="round"/><text x="579.30" y="941.90" font-size="23.3" xml:space="preserve">DT4</text>
</svg></body></html>
